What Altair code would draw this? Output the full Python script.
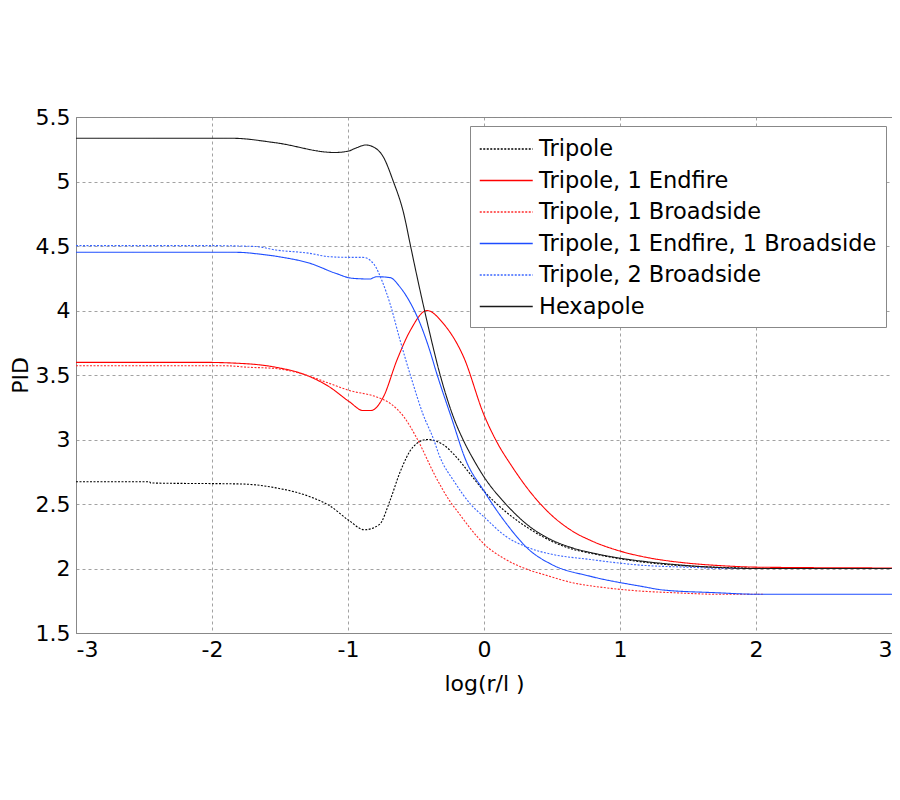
import altair as alt
import pandas as pd

series_names = [
    "Tripole",
    "Tripole, 1 Endfire",
    "Tripole, 1 Broadside",
    "Tripole, 1 Endfire, 1 Broadside",
    "Tripole, 2 Broadside",
    "Hexapole",
]

tripole_x = [-3, -2.46, -2.45, -1.78, -1.53, -1.28, -1.14, -0.99, -0.88, -0.77, -0.69, -0.62,
             -0.52, -0.42, -0.3, -0.2, -0.1, 0, 0.16, 0.33, 0.5, 0.65, 0.8, 1.0, 1.3, 1.7, 2.2, 3]
tripole_y = [2.673, 2.673, 2.663, 2.655, 2.625, 2.557, 2.49, 2.37, 2.30, 2.34, 2.53, 2.74,
             2.944, 3.0, 2.96, 2.86, 2.73, 2.60, 2.44, 2.31, 2.21, 2.15, 2.115, 2.075, 2.035,
             2.01, 2.0, 2.0]

endfire_x = [-3, -2.07, -1.73, -1.53, -1.28, -1.14, -0.99, -0.89, -0.83, -0.74, -0.64, -0.54,
             -0.42, -0.30, -0.15, 0, 0.1, 0.2, 0.35, 0.5, 0.65, 0.8, 1.0, 1.2, 1.44, 1.74, 2.03, 3]
endfire_y = [3.598, 3.598, 3.586, 3.56, 3.487, 3.41, 3.293, 3.225, 3.225, 3.33, 3.616, 3.849,
             4.0, 3.9, 3.64, 3.19, 2.97, 2.80, 2.58, 2.41, 2.29, 2.21, 2.135, 2.085, 2.048,
             2.022, 2.01, 2.004]

broadside_x = [-3, -1.92, -1.73, -1.53, -1.28, -1.14, -0.99, -0.79, -0.69, -0.59, -0.5, -0.35,
               -0.25, -0.2, -0.1, 0, 0.16, 0.3, 0.45, 0.65, 0.9, 1.15, 1.4, 1.74, 2.05]
broadside_y = [3.572, 3.572, 3.56, 3.55, 3.49, 3.436, 3.38, 3.33, 3.28, 3.177, 3.022, 2.70,
               2.52, 2.45, 2.31, 2.19, 2.07, 2.0, 1.95, 1.89, 1.85, 1.825, 1.812, 1.80, 1.80]

endbroad_x = [-3, -1.82, -1.64, -1.48, -1.28, -1.09, -0.97, -0.84, -0.79, -0.69, -0.62, -0.54,
              -0.47, -0.40, -0.35, -0.235, -0.136, 0, 0.16, 0.33, 0.5, 0.78, 1.15, 1.32, 1.69,
              2.03, 3]
endbroad_y = [4.451, 4.451, 4.436, 4.412, 4.366, 4.288, 4.25, 4.244, 4.262, 4.255, 4.185, 4.056,
              3.90, 3.694, 3.52, 3.155, 2.845, 2.60, 2.354, 2.147, 2.03, 1.94, 1.863, 1.833, 1.813,
              1.80, 1.80]

twobroad_x = [-3, -2.02, -1.68, -1.53, -1.28, -1.14, -0.99, -0.89, -0.81, -0.75, -0.69, -0.62,
              -0.53, -0.45, -0.37, -0.33, -0.21, -0.1, 0, 0.16, 0.33, 0.5, 0.78, 1.15, 1.5, 1.8, 3]
twobroad_y = [4.503, 4.503, 4.496, 4.469, 4.443, 4.417, 4.412, 4.412, 4.36, 4.23, 4.05, 3.78,
              3.46, 3.2, 3.0, 2.88, 2.66, 2.5, 2.40, 2.25, 2.16, 2.11, 2.07, 2.026, 2.01, 2.0, 2.0]

hexapole_x = [-3, -1.85, -1.53, -1.1, -1.0, -0.94, -0.87, -0.8, -0.74, -0.67, -0.59, -0.54,
              -0.5, -0.45, -0.4, -0.33, -0.22, -0.15, -0.08, 0, 0.16, 0.33, 0.5, 0.65, 0.8, 1.0,
              1.2, 1.44, 1.74, 2.0, 3]
hexapole_y = [5.335, 5.335, 5.30, 5.225, 5.235, 5.26, 5.283, 5.26, 5.19, 5.01, 4.75, 4.50,
              4.30, 4.06, 3.83, 3.53, 3.16, 2.99, 2.85, 2.71, 2.50, 2.33, 2.22, 2.16, 2.12, 2.08,
              2.052, 2.027, 2.007, 2.0, 2.0]

series_x = [tripole_x, endfire_x, broadside_x, endbroad_x, twobroad_x, hexapole_x]
series_y = [tripole_y, endfire_y, broadside_y, endbroad_y, twobroad_y, hexapole_y]

x_ticks = [-3, -2, -1, 0, 1, 2, 3]
y_ticks = [1.5, 2, 2.5, 3, 3.5, 4, 4.5, 5, 5.5]

rows = []
for name, xs, ys in zip(series_names, series_x, series_y):
    for i, (xv, yv) in enumerate(zip(xs, ys)):
        rows.append({"series": name, "x": xv, "y": yv, "i": i})
df = pd.DataFrame(rows)

colors = ["#000000", "#ff0000", "#ff2a2a", "#1d4dff", "#3a66ff", "#1a1a1a"]
dashes = [[2, 1.5], [1, 0], [2, 1.5], [1, 0], [2, 1.5], [1, 0]]

FONT = "DejaVu Sans"

legend = alt.Legend(
    title=None, orient="none", legendX=394, legendY=9,
    symbolType="M-1,0H3", symbolSize=702, symbolStrokeWidth=1.3,
    labelFont=FONT, labelFontSize=22.5, labelColor="#000",
    fillColor="white", strokeColor="#888", padding=9,
    rowPadding=5.5, labelOffset=32, labelLimit=500,
)

chart = alt.Chart(df).mark_line(strokeWidth=1.1, interpolate="monotone").encode(
    x=alt.X("x:Q", scale=alt.Scale(domain=[-3, 3], nice=False),
            axis=alt.Axis(values=x_ticks, title="log(r/l )", labelExpr="'' + datum.value",
                          grid=True, ticks=False, labelPadding=6, titlePadding=13)),
    y=alt.Y("y:Q", scale=alt.Scale(domain=[1.5, 5.5], nice=False, zero=False),
            axis=alt.Axis(values=y_ticks, title="PID", labelExpr="'' + datum.value",
                          grid=True, ticks=False, labelPadding=6, titlePadding=3)),
    color=alt.Color("series:N", scale=alt.Scale(domain=series_names, range=colors), legend=legend),
    strokeDash=alt.StrokeDash("series:N", scale=alt.Scale(domain=series_names, range=dashes), legend=legend),
    order="i:Q",
).properties(
    width=816, height=516,
    autosize=alt.AutoSizeParams(type="none"),
    padding={"left": 68, "top": 109, "right": 0, "bottom": 150},
).configure_view(
    stroke="#888", strokeWidth=1
).configure_axis(
    labelFont=FONT, labelFontSize=22, labelColor="#000",
    titleFont=FONT, titleFontSize=22, titleFontWeight="normal", titleColor="#000",
    domainColor="#888", gridColor="#8a8a8a", gridDash=[3, 3], gridWidth=0.8,
)

chart.save("out.html", embed_options={"renderer": "svg", "actions": False})
